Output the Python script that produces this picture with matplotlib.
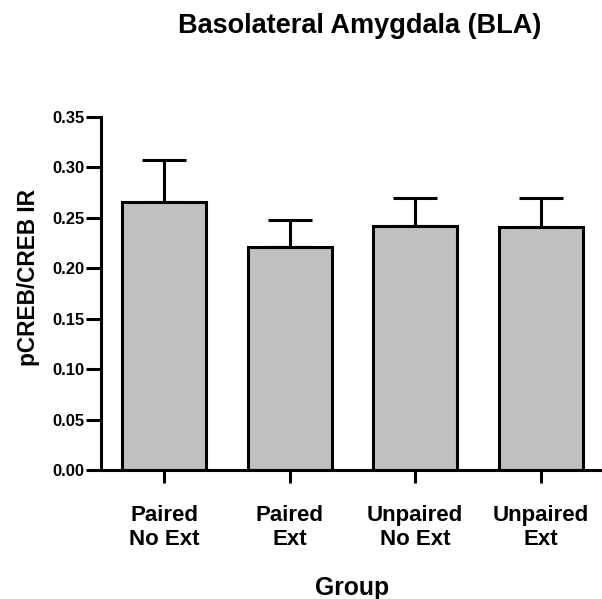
import matplotlib
matplotlib.use("Agg")
from matplotlib import pyplot as plt
import numpy as np

groups = ["Paired\nNo Ext", "Paired\nExt", "Unpaired\nNo Ext", "Unpaired\nExt"]
means = [0.266, 0.221, 0.242, 0.241]
sems = [0.041, 0.027, 0.028, 0.029]
yticks = [0.00, 0.05, 0.10, 0.15, 0.20, 0.25, 0.30, 0.35]

plt.rcParams['font.family'] = ['Liberation Sans', 'DejaVu Sans']
plt.rcParams['font.weight'] = 'bold'

fig = plt.figure(figsize=(6.02, 5.99), dpi=100)
ax = fig.add_axes([0.168, 0.215, 0.829, 0.590])

x = np.arange(len(groups))
ax.bar(x, means, width=0.67, color='#c0c0c0', edgecolor='black', linewidth=2.2, zorder=2)
ax.errorbar(x, means, yerr=[np.zeros(len(sems)), sems], fmt='none', ecolor='black',
            elinewidth=2.2, capsize=16, capthick=2.2, zorder=1)

ax.set_xlim(-0.502, 3.474)
ax.set_ylim(0, 0.35)
ax.set_yticks(yticks)
ax.set_yticklabels([f"{v:.2f}" for v in yticks], fontsize=12, fontweight='bold')
ax.set_xticks(x)
ax.set_xticklabels(groups, fontsize=16, fontweight='bold', linespacing=1.2)

for s in ['top', 'right']:
    ax.spines[s].set_visible(False)
for s in ['left', 'bottom']:
    ax.spines[s].set_linewidth(2.2)
ax.tick_params(axis='y', length=10.5, width=2.2, pad=1.5)
ax.tick_params(axis='x', length=9, width=2.2, pad=16)

ax.set_ylabel("pCREB/CREB IR", fontsize=16.3, fontweight='bold')
ax.yaxis.set_label_coords(-0.122, 0.545)
ax.set_xlabel("Group", fontsize=17.8, fontweight='bold')
ax.xaxis.set_label_coords(0.503, -0.298)
ax.set_title("Basolateral Amygdala (BLA)", fontsize=19.5, fontweight='bold', x=0.519, pad=60)

fig.savefig("out.png", dpi=100)
